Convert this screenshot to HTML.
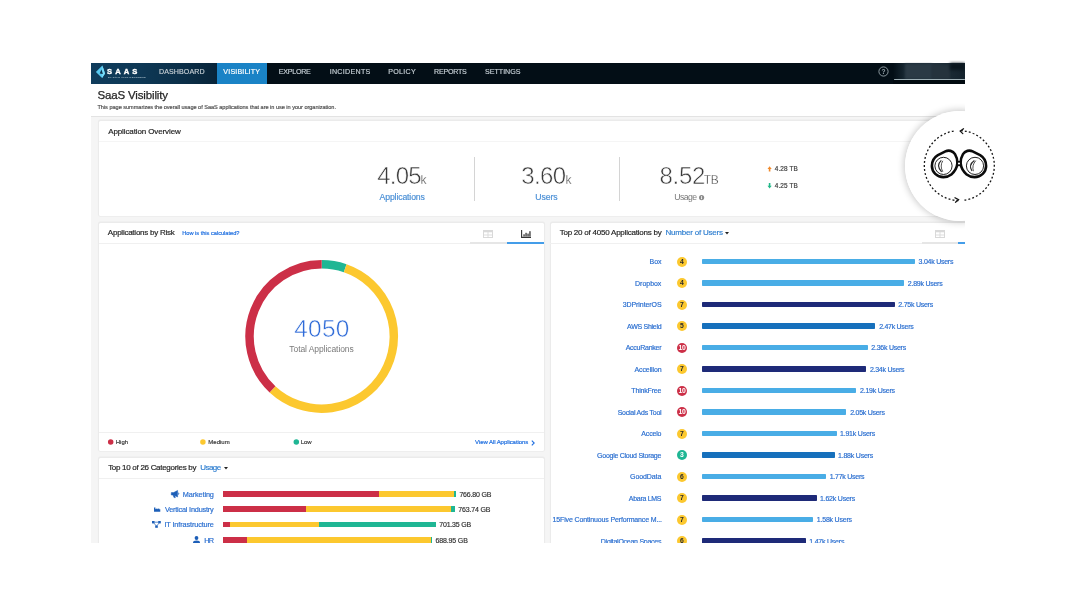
<!DOCTYPE html>
<html lang="en">
<head>
<meta charset="utf-8">
<title>SaaS Visibility</title>
<style>
html,body{margin:0;padding:0;background:#fff;}
body{width:1067px;height:593px;position:relative;overflow:hidden;font-family:"Liberation Sans",sans-serif;}
.shot{position:absolute;left:0;top:0;width:965px;height:543px;overflow:hidden;}
.inner{position:absolute;left:0;top:0;width:1067px;height:593px;filter:blur(0.4px);}
.r{position:absolute;}
.t{position:absolute;white-space:nowrap;display:block;-webkit-text-stroke:0.18px currentColor;}
.panel{position:absolute;background:#fff;box-shadow:0 -0.4px 0 1.1px #ebebeb;border-radius:1.5px;}
svg{position:absolute;overflow:visible;}
.badge{position:absolute;width:10px;height:10px;border-radius:50%;font-weight:bold;font-size:6.8px;line-height:10.4px;text-align:center;}
</style>
</head>
<body>
<div class="shot"><div class="inner">

<div class="r" style="left:91.00px;top:63.00px;width:874.00px;height:480.00px;background:#f5f5f5;"></div>
<div class="r" style="left:91.00px;top:63.00px;width:874.00px;height:21.00px;background:#030e16;background:linear-gradient(90deg,#0f3c5c 0px,#0e3855 50px,#0b2e47 95px,#082439 126px,#030e16 127px);"></div>
<div class="r" style="left:216.90px;top:63.00px;width:50.40px;height:21.00px;background:#1a83c6;"></div>
<div class="r" style="left:893.00px;top:63.00px;width:72.00px;height:21.00px;background:#0a1a24;background:linear-gradient(90deg,rgba(10,26,36,0) 0,#1b2c37 14px,#22323d 40px,#13222c 72px);"></div>
<div class="r" style="left:905.00px;top:64.00px;width:27.00px;height:14.60px;background:#2b3a45;filter:blur(1.2px);"></div>
<div class="r" style="left:932.00px;top:64.50px;width:18.00px;height:14.10px;background:#25333d;filter:blur(1.2px);"></div>
<div class="r" style="left:950.00px;top:63.00px;width:15.00px;height:7.00px;background:#0a161e;filter:blur(1.5px);"></div>
<div class="r" style="left:893.50px;top:78.60px;width:71.50px;height:1.60px;background:#9fb0b6;border-radius:1px;"></div>
<div class="r" style="left:893.00px;top:80.20px;width:72.00px;height:3.80px;background:#010a10;"></div>
<svg style="left:0;top:0" width="130" height="90" viewBox="0 0 130 90"><path d="M102.4 65.5 L95.9 71.9 L102.1 77.9 L105 73.5 Z" fill="#58c9f1"/><path d="M102.4 65.5 L102.1 77.9 L105 73.5 Z" fill="#7adcf8"/><path d="M101.5 69.6 L99.7 73.4 L102.9 73.9 Z" fill="#0c2f4a"/></svg>
<svg style="left:877.6px;top:65.9px" width="11" height="11" viewBox="0 0 11 11"><circle cx="5.5" cy="5.5" r="4.6" fill="none" stroke="#9aa7ae" stroke-width="0.9"/><text x="5.5" y="8" font-size="6.6" font-weight="bold" fill="#9aa7ae" text-anchor="middle" font-family="Liberation Sans, sans-serif">?</text></svg>
<div class="r" style="left:91.00px;top:84.00px;width:874.00px;height:31.90px;background:#ffffff;"></div>
<div class="r" style="left:91.00px;top:115.90px;width:874.00px;height:1.00px;background:#e3e3e3;"></div>
<div class="panel" style="left:99px;top:121.2px;width:896px;height:94.5px"></div>
<div class="panel" style="left:99px;top:222.8px;width:445px;height:227.9px"></div>
<div class="panel" style="left:99px;top:458.3px;width:445px;height:200px"></div>
<div class="panel" style="left:550.5px;top:222.8px;width:445px;height:400px"></div>
<div class="r" style="left:99.00px;top:140.80px;width:896.00px;height:1.00px;background:#f5f5f5;"></div>
<div class="r" style="left:99.00px;top:242.80px;width:445.00px;height:1.00px;background:#f0f0f0;"></div>
<div class="r" style="left:99.00px;top:432.20px;width:445.00px;height:1.00px;background:#f0f0f0;"></div>
<div class="r" style="left:99.00px;top:477.80px;width:445.00px;height:1.00px;background:#f0f0f0;"></div>
<div class="r" style="left:550.00px;top:242.80px;width:445.00px;height:1.00px;background:#f0f0f0;"></div>
<div class="r" style="left:474.20px;top:157.40px;width:1.00px;height:43.80px;background:#d4d4d4;"></div>
<div class="r" style="left:618.60px;top:157.40px;width:1.00px;height:43.80px;background:#d4d4d4;"></div>
<svg style="left:698.6px;top:194.7px" width="5.2" height="5.2" viewBox="0 0 10 10"><circle cx="5" cy="5" r="5" fill="#8a8a8a"/><rect x="4.1" y="4.2" width="1.8" height="3.8" fill="#fff"/><rect x="4.1" y="2" width="1.8" height="1.6" fill="#fff"/></svg>
<svg style="left:0;top:0" width="1" height="1"><path transform="translate(769.60 168.90)" d="M0 -2.7 L2.1 0 L0.8 0 L0.8 2.7 L-0.8 2.7 L-0.8 0 L-2.1 0 Z" fill="#f0892b"/></svg>
<svg style="left:0;top:0" width="1" height="1"><path transform="translate(769.60 185.80) rotate(180)" d="M0 -2.7 L2.1 0 L0.8 0 L0.8 2.7 L-0.8 2.7 L-0.8 0 L-2.1 0 Z" fill="#22b889"/></svg>
<svg style="left:482.90px;top:230.10px" width="10" height="8" viewBox="0 0 10 8"><rect x="0.5" y="0.5" width="9" height="7" fill="none" stroke="#d9d9d9" stroke-width="1"/><rect x="0.5" y="0.5" width="9" height="1.8" fill="#d9d9d9"/><path d="M0.5 5 H9.5 M5 2 V7.5" stroke="#d9d9d9" stroke-width="0.9" fill="none"/></svg>
<svg style="left:520.50px;top:230.00px" width="10" height="8" viewBox="0 0 10 8"><path d="M0.6 0 V7.4 H10" stroke="#333333" stroke-width="1.1" fill="none"/><rect x="2.4" y="4.3" width="1.3" height="2.2" fill="#333333"/><rect x="4.4" y="2.8" width="1.3" height="3.7" fill="#333333"/><rect x="6.4" y="3.6" width="1.3" height="2.9" fill="#333333"/><rect x="8.3" y="1.2" width="1.3" height="5.3" fill="#333333"/></svg>
<div class="r" style="left:470.40px;top:242.20px;width:36.40px;height:1.80px;background:#e6e6e6;"></div>
<div class="r" style="left:506.80px;top:242.20px;width:37.20px;height:1.80px;background:#449de9;"></div>
<svg style="left:934.60px;top:230.10px" width="10" height="8" viewBox="0 0 10 8"><rect x="0.5" y="0.5" width="9" height="7" fill="none" stroke="#d9d9d9" stroke-width="1"/><rect x="0.5" y="0.5" width="9" height="1.8" fill="#d9d9d9"/><path d="M0.5 5 H9.5 M5 2 V7.5" stroke="#d9d9d9" stroke-width="0.9" fill="none"/></svg>
<div class="r" style="left:921.50px;top:242.20px;width:36.80px;height:1.80px;background:#e6e6e6;"></div>
<div class="r" style="left:958.30px;top:242.20px;width:36.70px;height:1.80px;background:#449de9;"></div>
<svg style="left:223.60px;top:467.00px" width="4" height="2.4" viewBox="0 0 5 3"><path d="M0 0 H5 L2.5 3 Z" fill="#222"/></svg>
<svg style="left:725.30px;top:232.00px" width="4" height="2.4" viewBox="0 0 5 3"><path d="M0 0 H5 L2.5 3 Z" fill="#222"/></svg>
<svg style="left:0;top:0" width="965" height="543" viewBox="0 0 965 543"><path d="M321.70 264.35 A72.15 72.15 0 0 1 345.19 268.28" stroke="#1fb694" stroke-width="8.50" fill="none"/><path d="M345.19 268.28 A72.15 72.15 0 1 1 272.49 389.27" stroke="#fcc82f" stroke-width="8.50" fill="none"/><path d="M272.49 389.27 A72.15 72.15 0 0 1 321.70 264.35" stroke="#cc2f47" stroke-width="8.50" fill="none"/></svg>
<svg style="left:0;top:0" width="400" height="460"><circle cx="110.70" cy="442" r="2.75" fill="#cc2f47"/></svg>
<svg style="left:0;top:0" width="400" height="460"><circle cx="202.90" cy="442" r="2.75" fill="#fcc82f"/></svg>
<svg style="left:0;top:0" width="400" height="460"><circle cx="296.30" cy="442" r="2.75" fill="#1fb694"/></svg>
<svg style="left:530.9px;top:439.6px" width="4" height="6" viewBox="0 0 4 6"><path d="M0.8 0.6 L3.2 3 L0.8 5.4" stroke="#1f6fe0" stroke-width="1.1" fill="none"/></svg>
<div class="r" style="left:223.20px;top:491.15px;width:155.70px;height:5.70px;background:#cc2f47;"></div>
<div class="r" style="left:378.90px;top:491.15px;width:74.90px;height:5.70px;background:#fcc82f;"></div>
<div class="r" style="left:453.80px;top:491.15px;width:2.10px;height:5.70px;background:#1fb694;"></div>
<div class="r" style="left:223.20px;top:506.45px;width:83.00px;height:5.70px;background:#cc2f47;"></div>
<div class="r" style="left:306.20px;top:506.45px;width:144.70px;height:5.70px;background:#fcc82f;"></div>
<div class="r" style="left:450.90px;top:506.45px;width:4.10px;height:5.70px;background:#1fb694;"></div>
<div class="r" style="left:223.20px;top:521.75px;width:6.50px;height:5.70px;background:#cc2f47;"></div>
<div class="r" style="left:229.70px;top:521.75px;width:89.30px;height:5.70px;background:#fcc82f;"></div>
<div class="r" style="left:319.00px;top:521.75px;width:117.10px;height:5.70px;background:#1fb694;"></div>
<div class="r" style="left:223.20px;top:536.95px;width:24.20px;height:5.70px;background:#cc2f47;"></div>
<div class="r" style="left:247.40px;top:536.95px;width:183.90px;height:5.70px;background:#fcc82f;"></div>
<div class="r" style="left:431.30px;top:536.95px;width:0.90px;height:5.70px;background:#1fb694;"></div>
<svg style="left:171px;top:490.4px" width="9" height="8" viewBox="0 0 9 8"><path d="M0.3 2.6 H2.6 L6.6 0.4 V7 L2.6 5 H0.3 Z M2 5 L3 7.6 H4.4 L3.6 5 M7.3 2.6 Q8.6 3.7 7.3 4.8" fill="#1d5fb8" stroke="#1d5fb8" stroke-width="0.5"/></svg>
<svg style="left:154px;top:507.4px" width="6.3" height="4.7" viewBox="0 0 8 6"><path d="M0 6 V0.6 H1.8 V3 L4.2 1.6 V3 L6.6 1.6 V3 H8 V6 Z" fill="#1d5fb8"/></svg>
<svg style="left:152.4px;top:521.4px" width="9" height="7" viewBox="0 0 9 7"><rect x="0" y="0" width="2.6" height="2.4" fill="#1d5fb8"/><rect x="6.2" y="0" width="2.6" height="2.4" fill="#1d5fb8"/><rect x="3.2" y="4.4" width="2.6" height="2.4" fill="#1d5fb8"/><path d="M2.6 1.2 H6.2 M2 2.2 L4 4.6 M7 2.2 L5 4.6" stroke="#1d5fb8" stroke-width="0.7" fill="none"/></svg>
<svg style="left:192.6px;top:536.2px" width="7" height="8" viewBox="0 0 7 8"><circle cx="3.5" cy="2" r="1.9" fill="#1d5fb8"/><path d="M0 8 V6.6 Q0 4.6 3.5 4.6 Q7 4.6 7 6.6 V8 Z" fill="#1d5fb8"/></svg>
<div class="r" style="left:702.20px;top:258.90px;width:212.75px;height:5.20px;background:#49ade6;border-radius:0.8px;"></div>
<div class="badge" style="left:677.00px;top:256.80px;background:#fcc82f;color:#2a2a2a;letter-spacing:0">4</div>
<div class="r" style="left:702.20px;top:280.40px;width:202.00px;height:5.20px;background:#49ade6;border-radius:0.8px;"></div>
<div class="badge" style="left:677.00px;top:278.30px;background:#fcc82f;color:#2a2a2a;letter-spacing:0">4</div>
<div class="r" style="left:702.20px;top:301.90px;width:192.50px;height:5.20px;background:#1e2a78;border-radius:0.8px;"></div>
<div class="badge" style="left:677.00px;top:299.80px;background:#fcc82f;color:#2a2a2a;letter-spacing:0">7</div>
<div class="r" style="left:702.20px;top:323.40px;width:173.10px;height:5.20px;background:#1670bc;border-radius:0.8px;"></div>
<div class="badge" style="left:677.00px;top:321.30px;background:#fcc82f;color:#2a2a2a;letter-spacing:0">5</div>
<div class="r" style="left:702.20px;top:344.90px;width:165.50px;height:5.20px;background:#49ade6;border-radius:0.8px;"></div>
<div class="badge" style="left:677.00px;top:342.80px;background:#cc2f47;color:#ffffff;letter-spacing:-0.3px">10</div>
<div class="r" style="left:702.20px;top:366.40px;width:163.90px;height:5.20px;background:#1e2a78;border-radius:0.8px;"></div>
<div class="badge" style="left:677.00px;top:364.30px;background:#fcc82f;color:#2a2a2a;letter-spacing:0">7</div>
<div class="r" style="left:702.20px;top:387.90px;width:154.30px;height:5.20px;background:#49ade6;border-radius:0.8px;"></div>
<div class="badge" style="left:677.00px;top:385.80px;background:#cc2f47;color:#ffffff;letter-spacing:-0.3px">10</div>
<div class="r" style="left:702.20px;top:409.40px;width:144.20px;height:5.20px;background:#49ade6;border-radius:0.8px;"></div>
<div class="badge" style="left:677.00px;top:407.30px;background:#cc2f47;color:#ffffff;letter-spacing:-0.3px">10</div>
<div class="r" style="left:702.20px;top:430.90px;width:134.50px;height:5.20px;background:#49ade6;border-radius:0.8px;"></div>
<div class="badge" style="left:677.00px;top:428.80px;background:#fcc82f;color:#2a2a2a;letter-spacing:0">7</div>
<div class="r" style="left:702.20px;top:452.40px;width:132.50px;height:5.20px;background:#1670bc;border-radius:0.8px;"></div>
<div class="badge" style="left:677.00px;top:450.30px;background:#1fb694;color:#ffffff;letter-spacing:0">3</div>
<div class="r" style="left:702.20px;top:473.90px;width:123.90px;height:5.20px;background:#49ade6;border-radius:0.8px;"></div>
<div class="badge" style="left:677.00px;top:471.80px;background:#fcc82f;color:#2a2a2a;letter-spacing:0">6</div>
<div class="r" style="left:702.20px;top:495.40px;width:114.50px;height:5.20px;background:#1e2a78;border-radius:0.8px;"></div>
<div class="badge" style="left:677.00px;top:493.30px;background:#fcc82f;color:#2a2a2a;letter-spacing:0">7</div>
<div class="r" style="left:702.20px;top:516.90px;width:111.30px;height:5.20px;background:#49ade6;border-radius:0.8px;"></div>
<div class="badge" style="left:677.00px;top:514.80px;background:#fcc82f;color:#2a2a2a;letter-spacing:0">7</div>
<div class="r" style="left:702.20px;top:538.40px;width:103.70px;height:5.20px;background:#1e2a78;border-radius:0.8px;"></div>
<div class="badge" style="left:677.00px;top:536.30px;background:#fcc82f;color:#2a2a2a;letter-spacing:0">6</div>
<span class="t" id="n_dash" style="left:159.00px;top:66.00px;font-size:7.10px;line-height:12px;color:#c3ccd2;letter-spacing:0.085px;">DASHBOARD</span>
<span class="t" id="n_vis" style="left:223.35px;top:66.00px;font-size:7.10px;line-height:12px;color:#ffffff;letter-spacing:0.167px;">VISIBILITY</span>
<span class="t" id="n_exp" style="left:278.80px;top:66.00px;font-size:7.10px;line-height:12px;color:#c3ccd2;letter-spacing:-0.265px;">EXPLORE</span>
<span class="t" id="n_inc" style="left:329.71px;top:66.00px;font-size:7.10px;line-height:12px;color:#c3ccd2;letter-spacing:0.289px;">INCIDENTS</span>
<span class="t" id="n_pol" style="left:388.21px;top:66.00px;font-size:7.10px;line-height:12px;color:#c3ccd2;letter-spacing:0.300px;">POLICY</span>
<span class="t" id="n_rep" style="left:434.00px;top:66.00px;font-size:7.10px;line-height:12px;color:#c3ccd2;letter-spacing:-0.236px;">REPORTS</span>
<span class="t" id="n_set" style="left:485.10px;top:66.00px;font-size:7.10px;line-height:12px;color:#c3ccd2;letter-spacing:-0.014px;">SETTINGS</span>
<span class="t" id="logo" style="left:107.05px;top:66.00px;font-size:7.60px;line-height:12px;color:#ffffff;letter-spacing:3.049px;font-weight:bold;-webkit-text-stroke:0.35px #fff;">SAAS</span>
<span class="t" id="logosub" style="left:108.00px;top:71.00px;font-size:2.30px;line-height:12px;color:#7f9aab;letter-spacing:0.390px;">BY PALO ALTO NETWORKS</span>
<span class="t" id="title" style="left:97.51px;top:89.00px;font-size:11.50px;line-height:12px;color:#262626;letter-spacing:-0.154px;-webkit-text-stroke:0.25px #262626;">SaaS Visibility</span>
<span class="t" id="subtitle" style="left:97.46px;top:101.00px;font-size:5.60px;line-height:12px;color:#505050;letter-spacing:-0.035px;">This page summarizes the overall usage of SaaS applications that are in use in your organization.</span>
<span class="t" id="p1h" style="left:108.21px;top:126.00px;font-size:8.00px;line-height:12px;color:#242424;letter-spacing:-0.111px;">Application Overview</span>
<span class="t" id="s1" style="left:377.25px;top:162.00px;font-size:24.00px;line-height:28px;color:#3a3a3a;letter-spacing:-0.765px;-webkit-text-stroke:0.55px #fff;">4.05</span>
<span class="t" id="s1k" style="left:420.61px;top:173.00px;font-size:12.00px;line-height:14px;color:#3a3a3a;letter-spacing:10.900px;-webkit-text-stroke:0.3px #fff;">k</span>
<span class="t" id="s1l" style="left:379.55px;top:191.00px;font-size:8.70px;line-height:12px;color:#4a8fd6;letter-spacing:-0.136px;">Applications</span>
<span class="t" id="s2" style="left:521.30px;top:162.00px;font-size:24.00px;line-height:28px;color:#3a3a3a;letter-spacing:-0.597px;-webkit-text-stroke:0.55px #fff;">3.60</span>
<span class="t" id="s2k" style="left:565.50px;top:173.00px;font-size:12.00px;line-height:14px;color:#3a3a3a;letter-spacing:14.600px;-webkit-text-stroke:0.3px #fff;">k</span>
<span class="t" id="s2l" style="left:535.35px;top:191.00px;font-size:8.70px;line-height:12px;color:#4a8fd6;letter-spacing:-0.104px;">Users</span>
<span class="t" id="s3" style="left:659.46px;top:162.00px;font-size:24.00px;line-height:28px;color:#3a3a3a;letter-spacing:-0.236px;-webkit-text-stroke:0.55px #fff;">8.52</span>
<span class="t" id="s3k" style="left:703.85px;top:173.00px;font-size:12.00px;line-height:14px;color:#3a3a3a;letter-spacing:-0.500px;-webkit-text-stroke:0.3px #fff;">TB</span>
<span class="t" id="s3l" style="left:674.21px;top:191.00px;font-size:8.70px;line-height:12px;color:#7a7a7a;letter-spacing:-0.562px;-webkit-text-stroke:0;">Usage</span>
<span class="t" id="up" style="left:774.75px;top:163.00px;font-size:6.40px;line-height:12px;color:#3c3c3c;letter-spacing:0.114px;">4.28 TB</span>
<span class="t" id="dn" style="left:774.75px;top:180.00px;font-size:6.40px;line-height:12px;color:#3c3c3c;letter-spacing:0.114px;">4.25 TB</span>
<span class="t" id="p2h" style="left:107.85px;top:227.00px;font-size:8.00px;line-height:12px;color:#242424;letter-spacing:-0.244px;">Applications by Risk</span>
<span class="t" id="p2q" style="left:182.25px;top:227.00px;font-size:5.70px;line-height:12px;color:#1f6fe0;letter-spacing:-0.030px;">How is this calculated?</span>
<span class="t" id="dn_num" style="left:294.30px;top:315.00px;font-size:24.40px;line-height:28px;color:#2f6bd8;letter-spacing:0.235px;-webkit-text-stroke:0.55px #fff;">4050</span>
<span class="t" id="dn_lab" style="left:289.30px;top:343.00px;font-size:8.50px;line-height:12px;color:#7a7a7a;letter-spacing:-0.072px;-webkit-text-stroke:0;">Total Applications</span>
<span class="t" id="lg1" style="left:115.65px;top:436.00px;font-size:6.00px;line-height:12px;color:#3a3a3a;letter-spacing:0.035px;">High</span>
<span class="t" id="lg2" style="left:208.30px;top:436.00px;font-size:6.00px;line-height:12px;color:#3a3a3a;letter-spacing:0.010px;">Medium</span>
<span class="t" id="lg3" style="left:300.75px;top:436.00px;font-size:6.00px;line-height:12px;color:#3a3a3a;letter-spacing:-0.125px;">Low</span>
<span class="t" id="viewall" style="left:475.05px;top:436.00px;font-size:6.00px;line-height:12px;color:#1f6fe0;letter-spacing:-0.067px;">View All Applications</span>
<span class="t" id="p3h" style="left:108.15px;top:462.00px;font-size:8.00px;line-height:12px;color:#242424;letter-spacing:-0.290px;">Top 10 of 26 Categories by</span>
<span class="t" id="p3u" style="left:200.21px;top:462.00px;font-size:8.00px;line-height:12px;color:#2f7fd0;letter-spacing:-0.544px;">Usage</span>
<span class="t" id="c0" style="left:182.80px;top:489.00px;font-size:7.30px;line-height:12px;color:#2b6fd0;letter-spacing:-0.117px;">Marketing</span>
<span class="t" id="cv0" style="left:459.40px;top:489.00px;font-size:7.00px;line-height:12px;color:#333333;letter-spacing:-0.188px;">766.80 GB</span>
<span class="t" id="c1" style="left:164.90px;top:504.00px;font-size:7.30px;line-height:12px;color:#2b6fd0;letter-spacing:-0.194px;">Vertical Industry</span>
<span class="t" id="cv1" style="left:458.30px;top:504.00px;font-size:7.00px;line-height:12px;color:#333333;letter-spacing:-0.156px;">763.74 GB</span>
<span class="t" id="c2" style="left:164.40px;top:519.00px;font-size:7.30px;line-height:12px;color:#2b6fd0;letter-spacing:-0.116px;">IT Infrastructure</span>
<span class="t" id="cv2" style="left:439.21px;top:519.00px;font-size:7.00px;line-height:12px;color:#333333;letter-spacing:-0.179px;">701.35 GB</span>
<span class="t" id="c3" style="left:204.21px;top:535.00px;font-size:7.30px;line-height:12px;color:#2b6fd0;letter-spacing:-0.800px;">HR</span>
<span class="t" id="cv3" style="left:435.55px;top:535.00px;font-size:7.00px;line-height:12px;color:#333333;letter-spacing:-0.148px;">688.95 GB</span>
<span class="t" id="p4h" style="left:559.65px;top:227.00px;font-size:8.00px;line-height:12px;color:#242424;letter-spacing:-0.222px;">Top 20 of 4050 Applications by</span>
<span class="t" id="p4u" style="left:665.40px;top:227.00px;font-size:8.00px;line-height:12px;color:#2f7fd0;letter-spacing:-0.205px;">Number of Users</span>
<span class="t" id="a0" style="left:649.60px;top:256.00px;font-size:7.00px;line-height:12px;color:#2b6fd0;letter-spacing:-0.100px;">Box</span>
<span class="t" id="av0" style="left:918.55px;top:256.00px;font-size:7.00px;line-height:12px;color:#2b6fd0;letter-spacing:-0.245px;">3.04k Users</span>
<span class="t" id="a1" style="left:635.10px;top:278.00px;font-size:7.00px;line-height:12px;color:#2b6fd0;letter-spacing:-0.032px;">Dropbox</span>
<span class="t" id="av1" style="left:907.80px;top:278.00px;font-size:7.00px;line-height:12px;color:#2b6fd0;letter-spacing:-0.245px;">2.89k Users</span>
<span class="t" id="a2" style="left:622.65px;top:299.00px;font-size:7.00px;line-height:12px;color:#2b6fd0;letter-spacing:-0.065px;">3DPrinterOS</span>
<span class="t" id="av2" style="left:898.30px;top:299.00px;font-size:7.00px;line-height:12px;color:#2b6fd0;letter-spacing:-0.245px;">2.75k Users</span>
<span class="t" id="a3" style="left:627.00px;top:321.00px;font-size:7.00px;line-height:12px;color:#2b6fd0;letter-spacing:-0.279px;">AWS Shield</span>
<span class="t" id="av3" style="left:879.15px;top:321.00px;font-size:7.00px;line-height:12px;color:#2b6fd0;letter-spacing:-0.270px;">2.47k Users</span>
<span class="t" id="a4" style="left:625.71px;top:342.00px;font-size:7.00px;line-height:12px;color:#2b6fd0;letter-spacing:-0.263px;">AccuRanker</span>
<span class="t" id="av4" style="left:871.30px;top:342.00px;font-size:7.00px;line-height:12px;color:#2b6fd0;letter-spacing:-0.245px;">2.36k Users</span>
<span class="t" id="a5" style="left:634.50px;top:364.00px;font-size:7.00px;line-height:12px;color:#2b6fd0;letter-spacing:-0.102px;">Accellion</span>
<span class="t" id="av5" style="left:869.96px;top:364.00px;font-size:7.00px;line-height:12px;color:#2b6fd0;letter-spacing:-0.270px;">2.34k Users</span>
<span class="t" id="a6" style="left:631.35px;top:385.00px;font-size:7.00px;line-height:12px;color:#2b6fd0;letter-spacing:-0.179px;">ThinkFree</span>
<span class="t" id="av6" style="left:860.10px;top:385.00px;font-size:7.00px;line-height:12px;color:#2b6fd0;letter-spacing:-0.245px;">2.19k Users</span>
<span class="t" id="a7" style="left:617.65px;top:407.00px;font-size:7.00px;line-height:12px;color:#2b6fd0;letter-spacing:-0.241px;">Social Ads Tool</span>
<span class="t" id="av7" style="left:850.25px;top:407.00px;font-size:7.00px;line-height:12px;color:#2b6fd0;letter-spacing:-0.270px;">2.05k Users</span>
<span class="t" id="a8" style="left:641.35px;top:428.00px;font-size:7.00px;line-height:12px;color:#2b6fd0;letter-spacing:-0.190px;">Accelo</span>
<span class="t" id="av8" style="left:840.05px;top:428.00px;font-size:7.00px;line-height:12px;color:#2b6fd0;letter-spacing:-0.220px;">1.91k Users</span>
<span class="t" id="a9" style="left:597.10px;top:450.00px;font-size:7.00px;line-height:12px;color:#2b6fd0;letter-spacing:-0.263px;">Google Cloud Storage</span>
<span class="t" id="av9" style="left:838.05px;top:450.00px;font-size:7.00px;line-height:12px;color:#2b6fd0;letter-spacing:-0.220px;">1.88k Users</span>
<span class="t" id="a10" style="left:630.10px;top:471.00px;font-size:7.00px;line-height:12px;color:#2b6fd0;letter-spacing:-0.098px;">GoodData</span>
<span class="t" id="av10" style="left:829.71px;top:471.00px;font-size:7.00px;line-height:12px;color:#2b6fd0;letter-spacing:-0.245px;">1.77k Users</span>
<span class="t" id="a11" style="left:628.85px;top:493.00px;font-size:7.00px;line-height:12px;color:#2b6fd0;letter-spacing:-0.305px;">Abara LMS</span>
<span class="t" id="av11" style="left:820.05px;top:493.00px;font-size:7.00px;line-height:12px;color:#2b6fd0;letter-spacing:-0.220px;">1.62k Users</span>
<span class="t" id="a12" style="left:552.55px;top:514.00px;font-size:7.00px;line-height:12px;color:#2b6fd0;letter-spacing:-0.136px;">15Five Continuous Performance M...</span>
<span class="t" id="av12" style="left:816.85px;top:514.00px;font-size:7.00px;line-height:12px;color:#2b6fd0;letter-spacing:-0.220px;">1.58k Users</span>
<span class="t" id="a13" style="left:600.80px;top:536.00px;font-size:7.00px;line-height:12px;color:#2b6fd0;letter-spacing:-0.264px;">DigitalOcean Spaces</span>
<span class="t" id="av13" style="left:809.25px;top:536.00px;font-size:7.00px;line-height:12px;color:#2b6fd0;letter-spacing:-0.220px;">1.47k Users</span>
<div class="r" style="left:904.5px;top:111px;width:110px;height:110px;border-radius:50%;box-shadow:0 0 7px 1px rgba(0,0,0,.22);"></div>
</div></div>
<div class="r" style="left:904.5px;top:111px;width:110px;height:110px;border-radius:50%;background:#fff;"></div>
<svg style="left:0;top:0" width="1067" height="593" viewBox="0 0 1067 593">
<g fill="none" stroke="#141414" stroke-width="1.3" stroke-dasharray="1.9 2.15">
<path d="M960.83 130.63 A35.00 35.00 0 0 1 963.87 200.30"/>
<path d="M958.38 200.59 A35.00 35.00 0 0 1 954.91 130.88"/>
</g>
<g fill="none" stroke="#141414" stroke-width="1.3" stroke-linecap="round" stroke-linejoin="miter">
<path d="M963.5 128.8 L960.2 131.1 L962.8 133.6"/>
<path d="M955.0 197.7 L958.5 199.7 L955.5 202.2"/>
</g>
<g fill="none" stroke="#0b0b0b" stroke-linejoin="round">
<path stroke-width="2.6" d="M931.90 166.00 C931.90 160.60 934.40 157.30 937.90 155.20 L945.40 151.40 C948.60 149.80 952.90 150.70 955.00 154.10 C956.50 156.60 957.60 160.00 957.40 163.20 C957.00 167.80 954.30 171.90 951.30 174.60 C949.10 176.40 946.30 177.10 943.40 177.10 C937.00 177.10 931.90 172.10 931.90 166.00 Z"/>
<path stroke-width="2.6" d="M986.10 166.00 C986.10 160.60 983.60 157.30 980.10 155.20 L972.60 151.40 C969.40 149.80 965.10 150.70 963.00 154.10 C961.50 156.60 960.40 160.00 960.60 163.20 C961.00 167.80 963.70 171.90 966.70 174.60 C968.90 176.40 971.70 177.10 974.60 177.10 C981.00 177.10 986.10 172.10 986.10 166.00 Z"/>
<circle cx="959.0" cy="163.5" r="1.9" stroke-width="1.7" fill="#fff"/>
<circle cx="943.5" cy="165.9" r="8.6" stroke-width="0.9"/>
<circle cx="975.0" cy="165.9" r="8.6" stroke-width="0.9"/>
<path stroke-width="1.2" stroke="#2a2a2a" d="M941.3 160.4 Q935.6 165.6 941.6 171.8"/>
<path stroke-width="0.7" d="M942.8 160.8 Q939.6 165.8 942.8 171.8"/>
<path stroke-width="1.2" stroke="#2a2a2a" d="M974.4 160.4 Q968.0 165.0 972.0 171.0"/>
<path stroke-width="0.7" d="M975.8 160.6 Q971.6 165.4 973.4 171.2"/>
</g>
</svg>

</body>
</html>
